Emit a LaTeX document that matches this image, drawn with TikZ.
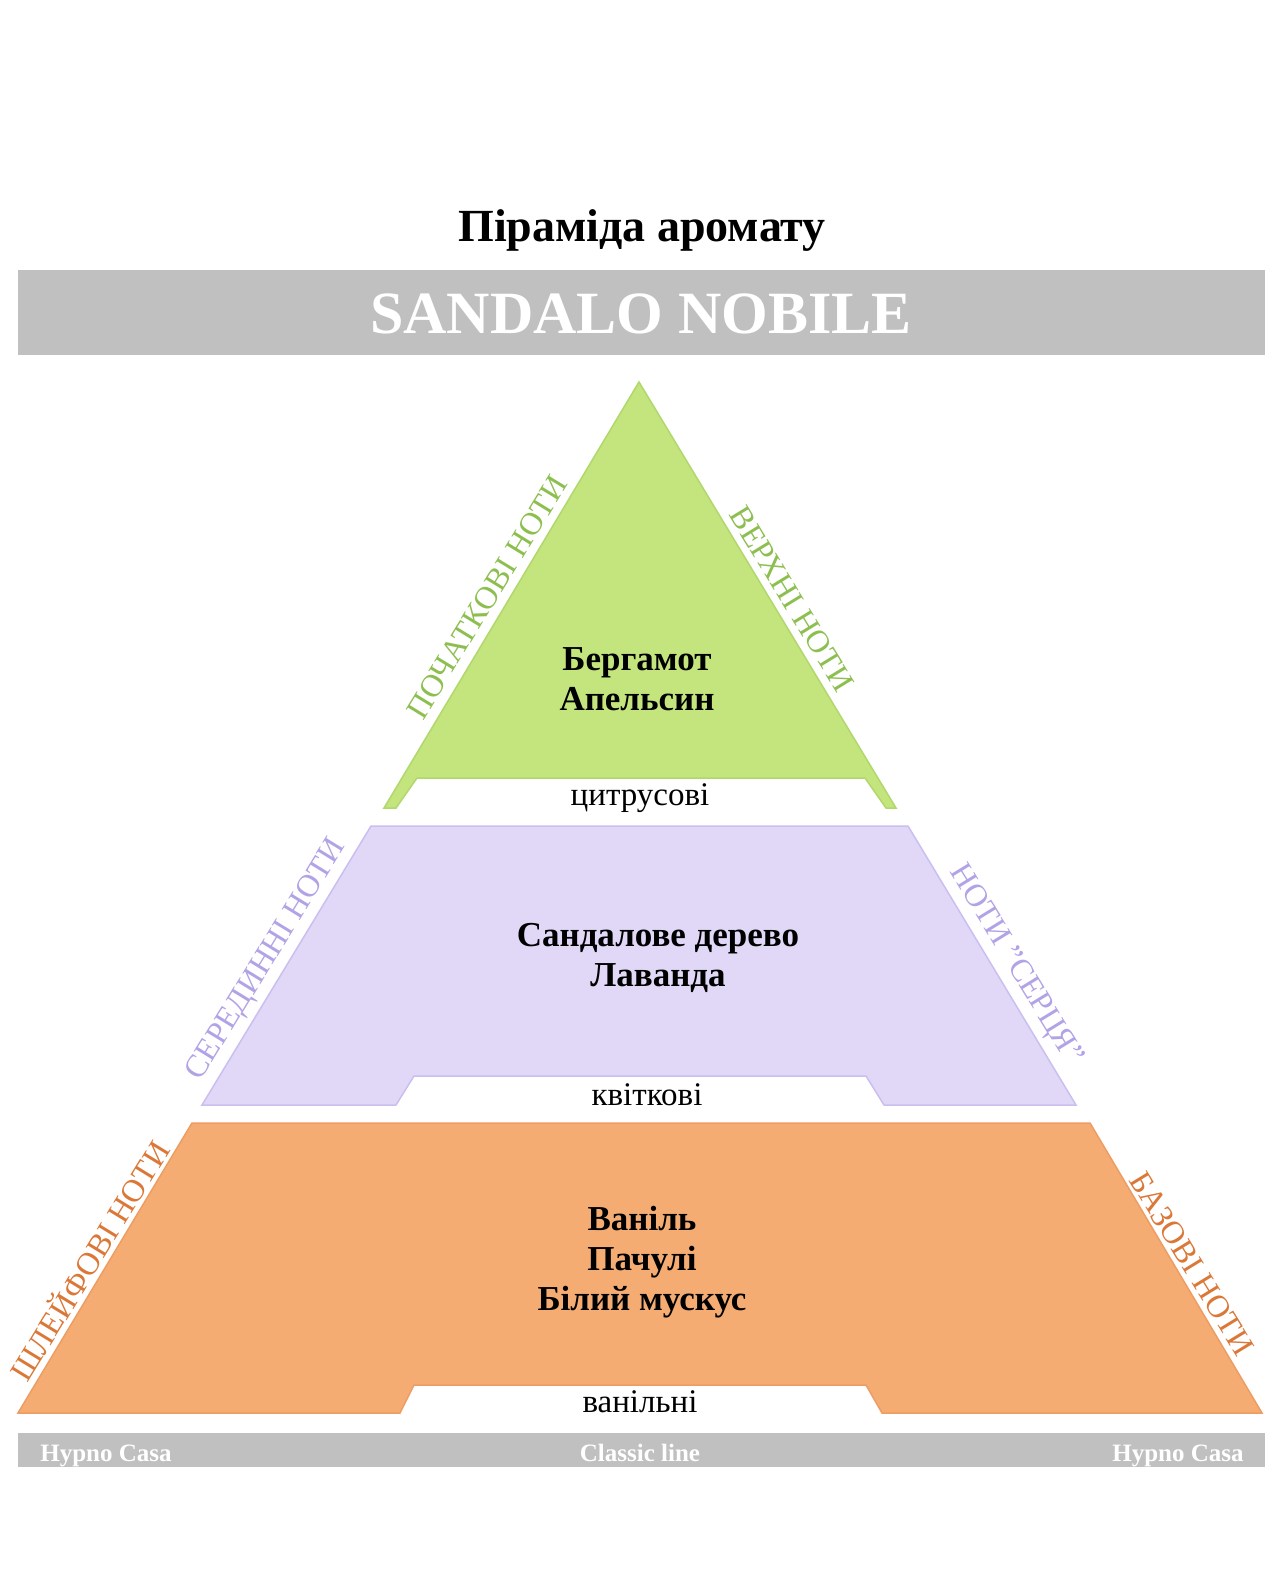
\documentclass[tikz,border=0pt]{standalone}
\usepackage{fontspec}
\setmainfont{Liberation Serif}
\definecolor{grnF}{HTML}{C4E57D}
\definecolor{grnD}{HTML}{B0D86C}
\definecolor{grnT}{HTML}{8DBF50}
\definecolor{purF}{HTML}{E1D7F7}
\definecolor{purD}{HTML}{CBBFF0}
\definecolor{purT}{HTML}{B2A3E6}
\definecolor{orF}{HTML}{F5AC73}
\definecolor{orD}{HTML}{EE9D62}
\definecolor{orT}{HTML}{DB7838}
\definecolor{barG}{HTML}{C0C0C0}
\begin{document}
\begin{tikzpicture}[x=1pt,y=-1pt,
  mainnote/.style={font=\fontsize{35}{40}\selectfont\bfseries, align=center, text=black},
  family/.style={font=\fontsize{33}{36}\selectfont, text=black},
  sidelbl/.style={font=\fontsize{32}{36}\selectfont, inner sep=0pt},
  footer/.style={font=\fontsize{25}{28}\selectfont\bfseries, text=white, anchor=base}]
\useasboundingbox (0,0) rectangle (1284,1583);
\fill[white] (0,0) rectangle (1284,1583);
% title
\node[font=\fontsize{46}{52}\selectfont\bfseries] (title) at (642,230) {Піраміда аромату};
% banner
\fill[barG] (18,270) rectangle (1265,355);
\node[font=\fontsize{60}{66}\selectfont\bfseries, text=white] (brand) at (641,314) {SANDALO NOBILE};
% green triangle
\filldraw[fill=grnF, draw=grnD, line width=1.5pt]
  (639,382) -- (896,808) -- (886,808) -- (865,778) -- (417,778) -- (396,808) -- (384,808) -- cycle;
% purple trapezoid
\filldraw[fill=purF, draw=purD, line width=1.5pt]
  (371,826) -- (908,826) -- (1076,1105) -- (884,1105) -- (866,1076) -- (414,1076) -- (396,1105) -- (202,1105) -- cycle;
% orange trapezoid
\filldraw[fill=orF, draw=orD, line width=1.5pt]
  (192,1123) -- (1090,1123) -- (1262,1413) -- (882,1413) -- (866,1385) -- (414,1385) -- (400,1413) -- (18,1413) -- cycle;
% footer bar
\fill[barG] (18,1433) rectangle (1265,1467);
\node[footer] (f1) at (106,1461) {Hypno Casa};
\node[footer] (f2) at (640,1461) {Classic line};
\node[footer] (f3) at (1178,1461) {Hypno Casa};
% notes
\node[mainnote] (top) at (637,679) {Бергамот\\Апельсин};
\node[mainnote] (heart) at (658,958) {Сандалове дерево\\Лаванда};
\node[mainnote] (base) at (642,1262) {Ваніль\\Пачулі\\Білий мускус};
\node[family] (fam1) at (640,798) {цитрусові};
\node[family] (fam2) at (647,1095) {квіткові};
\node[family] (fam3) at (640,1402) {ванільні};
% side labels
\node[sidelbl, text=grnT, rotate=58.5] (l1) at (487,597) {ПОЧАТКОВІ НОТИ};
\node[sidelbl, text=grnT, rotate=-58.5] (r1) at (792,599) {ВЕРХНІ НОТИ};
\node[sidelbl, text=purT, rotate=58.5] (l2) at (267,960) {СЕРЕДИННІ НОТИ};
\node[sidelbl, text=purT, rotate=-58.5] (r2) at (1015,965) {НОТИ "СЕРЦЯ"};
\node[sidelbl, text=orT, rotate=58.5] (l3) at (88,1260) {ШЛЕЙФОВІ НОТИ};
\node[sidelbl, text=orT, rotate=-58.5] (r3) at (1192,1264) {БАЗОВІ НОТИ};
\end{tikzpicture}
\end{document}
